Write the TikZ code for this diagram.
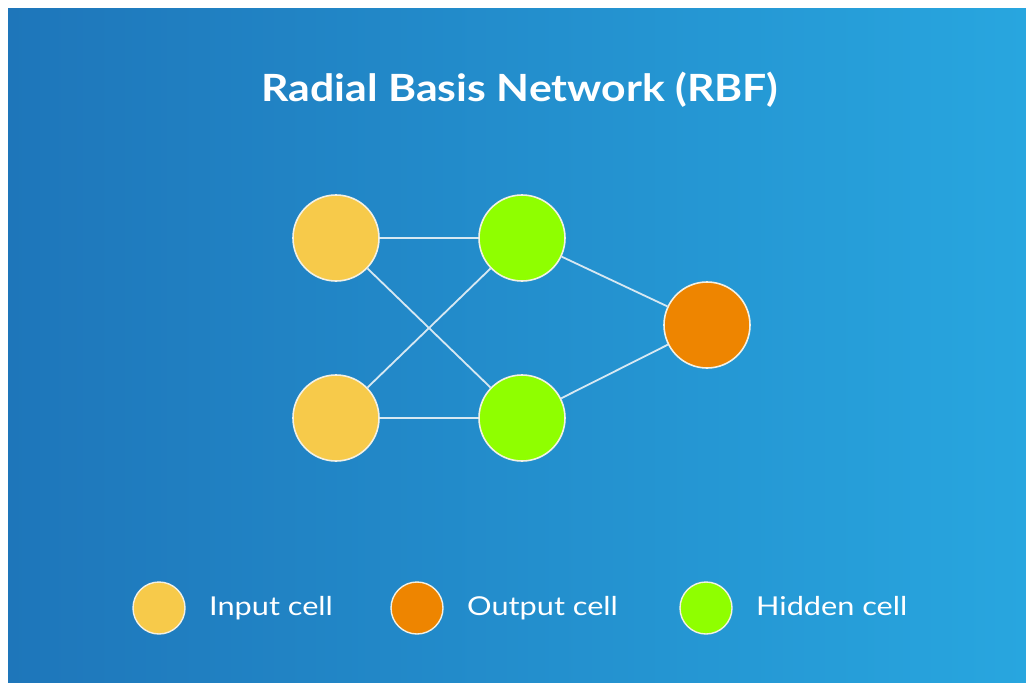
\documentclass[tikz,border=0pt]{standalone}
\usepackage{fontspec}
\setmainfont{Lato}
\newfontfamily\titlefont[FakeStretch=1.14]{Lato}
\newfontfamily\legfont[FakeStretch=1.18]{Lato}
\definecolor{bgL}{RGB}{30,118,186}
\definecolor{bgR}{RGB}{40,166,223}
\definecolor{incol}{RGB}{247,202,74}
\definecolor{hidcol}{RGB}{143,255,0}
\definecolor{outcol}{RGB}{238,133,0}
\definecolor{rimcol}{RGB}{242,240,228}
\definecolor{edgecol}{RGB}{215,232,242}
\tikzset{
  cell/.style={circle, draw=rimcol, line width=1.6pt, minimum size=86pt, inner sep=0pt},
  legcell/.style={circle, draw=rimcol, line width=1.4pt, minimum size=52pt, inner sep=0pt},
  link/.style={draw=edgecol, line width=1.8pt},
  legtext/.style={text=white, font=\legfont\fontsize{26}{30}\selectfont, anchor=base west, inner sep=0pt},
}
\begin{document}
\begin{tikzpicture}[x=1pt,y=-1pt]
\useasboundingbox (0,0) rectangle (1026,683);
\shade[left color=bgL, right color=bgR] (8,8) rectangle (1026,683);
\node[text=white, anchor=base, inner sep=0pt, font=\titlefont\fontsize{37.5}{40}\bfseries\selectfont] (title) at (520,101) {Radial Basis Network (RBF)};
\node[cell, fill=incol] (i1) at (336,238) {};
\node[cell, fill=incol] (i2) at (336,418) {};
\node[cell, fill=hidcol] (h1) at (522,238) {};
\node[cell, fill=hidcol] (h2) at (522,418) {};
\node[cell, fill=outcol] (o) at (707,325) {};
\path[link] (i1) -- (h1);
\path[link] (i1) -- (h2);
\path[link] (i2) -- (h1);
\path[link] (i2) -- (h2);
\path[link] (h1) -- (o);
\path[link] (h2) -- (o);
\node[legcell, fill=incol] (l1) at (159,608) {};
\node[legcell, fill=outcol] (l2) at (417,608) {};
\node[legcell, fill=hidcol] (l3) at (706,608) {};
\node[legtext] (t1) at (209,615) {Input cell};
\node[legtext] (t2) at (467,615) {Output cell};
\node[legtext] (t3) at (756,615) {Hidden cell};
\end{tikzpicture}
\end{document}
